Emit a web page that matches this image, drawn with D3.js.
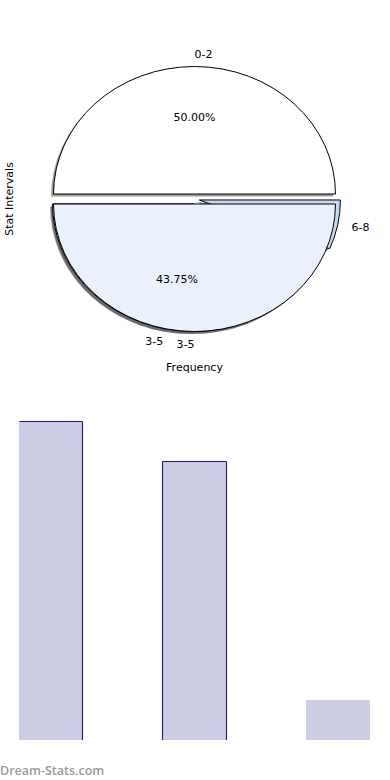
<!DOCTYPE html>
<html>
<head>
<meta charset="UTF-8">
<script src="https://d3js.org/d3.v7.min.js"></script>
<style>
    body { margin: 0; background: #fff; }
    svg { display: block; font-family: "DejaVu Sans", sans-serif; }
</style>
</head>
<body>
<svg width="390" height="780"></svg>
<script>
    // data
    const intervals = ["0-2", "3-5", "6-8"];
    const frequency = [8, 7, 1];
    const sliceColors = ["#ffffff", "#eaf0fc", "#c6daf6"];

    const svg = d3.select("svg");

    // ---- pie (elliptical, exploded, with shadow) ----
    const cx = 194.5, cy = 199;
    const rx = 141, ry = 127.5;
    const explode = 5;
    const sx = rx / ry;

    const pie = d3.pie().sort(null)
        .startAngle(Math.PI / 2)
        .endAngle(Math.PI / 2 - 2 * Math.PI);
    const arcs = pie(frequency);
    arcs.forEach((d, i) => { d.label = intervals[i]; d.color = sliceColors[i]; d.pct = true; });
    // the "3-5" wedge is drawn a second time over the whole lower half
    const overlay = {
        startAngle: arcs[1].startAngle, endAngle: arcs[2].endAngle,
        value: arcs[1].value, label: intervals[1], color: sliceColors[1], pct: false
    };
    const wedges = arcs.concat([overlay]);

    const arc = d3.arc().innerRadius(0).outerRadius(ry);
    const total = d3.sum(frequency);

    const mid = d => (d.startAngle + d.endAngle) / 2;
    const offset = d => [Math.sin(mid(d)) * explode, -Math.cos(mid(d)) * explode];

    const pieG = svg.append("g");

    // shadows under every wedge
    pieG.selectAll(".shadow")
        .data(wedges)
        .join("path")
        .attr("class", "shadow")
        .attr("transform", d => {
            const [dx, dy] = offset(d);
            return `translate(${cx + dx - 2.5},${cy + dy + 2.6}) scale(${sx},1)`;
        })
        .attr("d", arc)
        .attr("fill", d => d3.rgb(d.color).darker(3.5))
        .attr("opacity", 0.55);

    pieG.selectAll(".slice")
        .data(wedges)
        .join("path")
        .attr("class", "slice")
        .attr("transform", d => {
            const [dx, dy] = offset(d);
            return `translate(${cx + dx},${cy + dy}) scale(${sx},1)`;
        })
        .attr("d", arc)
        .attr("fill", d => d.color)
        .attr("stroke", "#000")
        .attr("stroke-width", 1)
        .attr("vector-effect", "non-scaling-stroke");

    // slice labels at 1.1 radius, percent labels at 0.6 radius
    const labelAt = (d, k) => {
        const [dx, dy] = offset(d);
        return [cx + dx + Math.sin(mid(d)) * rx * k, cy + dy - Math.cos(mid(d)) * ry * k];
    };

    svg.selectAll(".slabel")
        .data(wedges)
        .join("text")
        .attr("class", "slabel")
        .attr("x", d => labelAt(d, 1.1)[0])
        .attr("y", d => labelAt(d, 1.1)[1])
        .attr("dy", "0.35em")
        .attr("text-anchor", d => Math.sin(mid(d)) < 0 ? "end" : "start")
        .attr("font-size", 11)
        .text(d => d.label);

    svg.selectAll(".pct")
        .data(arcs.filter(d => d.value / total > 0.1))
        .join("text")
        .attr("class", "pct")
        .attr("x", d => labelAt(d, 0.6)[0])
        .attr("y", d => labelAt(d, 0.6)[1])
        .attr("dy", "0.35em")
        .attr("text-anchor", "middle")
        .attr("font-size", 11)
        .text(d => (d.value / total * 100).toFixed(2) + "%");

    svg.append("text")
        .attr("transform", `translate(13,${cy}) rotate(-90)`)
        .attr("text-anchor", "middle")
        .attr("font-size", 11)
        .text("Stat Intervals");

    svg.append("text")
        .attr("x", cx)
        .attr("y", 367)
        .attr("dy", "0.35em")
        .attr("text-anchor", "middle")
        .attr("font-size", 11)
        .text("Frequency");

    // ---- bars ----
    const barEdges = ["tr", "tlr", ""];
    const x = d3.scaleBand().domain(intervals).range([19, 370]).paddingInner(0.554).paddingOuter(0);
    const y = d3.scaleLinear().domain([0, 8]).range([740, 421]);

    svg.selectAll(".bar")
        .data(intervals)
        .join("rect")
        .attr("class", "bar")
        .attr("x", d => x(d))
        .attr("y", (d, i) => y(frequency[i]))
        .attr("width", x.bandwidth())
        .attr("height", (d, i) => y(0) - y(frequency[i]))
        .attr("fill", "#ccccE4");

    svg.selectAll(".edge")
        .data(intervals)
        .join("path")
        .attr("class", "edge")
        .attr("d", (d, i) => {
            const x0 = Math.round(x(d)) + 0.5, x1 = Math.round(x(d) + x.bandwidth()) - 0.5;
            const t = Math.round(y(frequency[i])) + 0.5, b = y(0);
            const e = barEdges[i];
            let p = "";
            if (e.includes("t")) p += `M${x0},${t}H${x1}`;
            if (e.includes("l")) p += `M${x0},${t}V${b}`;
            if (e.includes("r")) p += `M${x1},${t}V${b}`;
            return p || null;
        })
        .attr("fill", "none")
        .attr("stroke", "#1a1a8e")
        .attr("stroke-width", 1.1);

    svg.append("text")
        .attr("x", 0)
        .attr("y", 775)
        .attr("font-family", "'Open Sans', sans-serif")
        .attr("font-size", 12.5)
        .attr("font-weight", 600)
        .attr("fill", "#9a9a9a")
        .text("Dream-Stats.com");
</script>
</body>
</html>
